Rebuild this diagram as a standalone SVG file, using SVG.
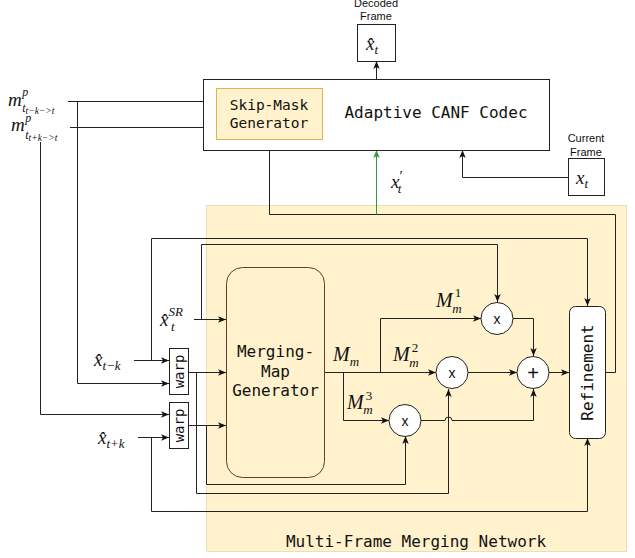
<svg xmlns="http://www.w3.org/2000/svg" width="635" height="558" viewBox="0 0 635 558">
<defs>
<marker id="ar" viewBox="0 0 10 10" refX="10" refY="5" markerWidth="8" markerHeight="8" orient="auto" markerUnits="userSpaceOnUse"><path d="M0,1 L10,5 L0,9 L2.5,5 Z" fill="#111"/></marker>
<marker id="ag" viewBox="0 0 10 10" refX="10" refY="5" markerWidth="8" markerHeight="8" orient="auto" markerUnits="userSpaceOnUse"><path d="M0,1 L10,5 L0,9 L2.5,5 Z" fill="#339933"/></marker>
<style>
.mono{font-family:"DejaVu Sans Mono","Liberation Mono",monospace;fill:#111}
.sans{font-family:"Liberation Sans",Arial,sans-serif;fill:#111}
.math{font-family:"Liberation Serif","Times New Roman",serif;font-style:italic;fill:#111}
.num{font-family:"Liberation Serif","Times New Roman",serif;fill:#111}
.c path{fill:none;stroke:#222;stroke-width:1;marker-end:url(#ar)}
.box{fill:#fff;stroke:#222;stroke-width:1}
.yel{fill:#fff2cc;stroke:#d6b656;stroke-width:1}
.circ{fill:#fff;stroke:#222;stroke-width:1}
</style>
</defs>
<rect width="635" height="558" fill="#fff"/>

<g id="panel">
<rect x="206.5" y="205.5" width="420" height="346" fill="#fff2cc" stroke="#d6c78f" stroke-dasharray="1 1"/>
<text class="mono" x="416" y="547" font-size="16" text-anchor="middle">Multi-Frame Merging Network</text>
</g>

<g id="connectors" class="c">
<path d="M68,101.5 H216"/>
<path d="M70,127.5 H216"/>
<path d="M77.5,101.5 V383.5 H169"/>
<path d="M40.5,142 V414.5 H169"/>
<path d="M134,360.5 H169"/>
<path d="M151.5,360.5 V238.5 H587.5 V306"/>
<path d="M138,437.5 H169"/>
<path d="M151.5,437.5 V511.5 H587.5 V438"/>
<path d="M194,319.5 H226"/>
<path d="M201.5,319.5 V244.5 H497.5 V302"/>
<path d="M188,372.5 H226"/>
<path d="M196.5,372.5 V493.5 H448.5 V389"/>
<path d="M188,425.5 H226"/>
<path d="M206.5,425.5 V484.5 H405.5 V436"/>
<path d="M324,372.5 H436"/>
<path d="M380.5,372.5 V318.5 H481"/>
<path d="M343.5,372.5 V420.5 H389"/>
<path d="M513,318.5 H533.5 V356"/>
<path d="M468,372.5 H517"/>
<path d="M421,420.5 H445 A3.5,3.5 0 0 1 452,420.5 H533.5 V389"/>
<path d="M549,372.5 H569"/>
<path d="M605,372.5 H615.5 V214.5 H269.5 V139"/>
<path d="M376.5,214.5 V150" style="stroke:#339933;marker-end:url(#ag)"/>
<path d="M376.5,79 V61"/>
<path d="M568,177.5 H462.5 V150"/>
</g>

<g id="codec">
<rect class="box" x="203.5" y="79.5" width="346" height="71"/>
<text class="mono" x="436" y="118" font-size="16" text-anchor="middle">Adaptive CANF Codec</text>
</g>

<g id="skip-mask">
<rect class="yel" x="216.5" y="88.5" width="106" height="51"/>
<text class="mono" x="269" y="110" font-size="14.5" text-anchor="middle">Skip-Mask</text>
<text class="mono" x="269" y="128" font-size="14.5" text-anchor="middle">Generator</text>
</g>

<g id="decoded">
<text class="sans" x="376" y="7" font-size="11" text-anchor="middle">Decoded</text>
<text class="sans" x="376" y="20" font-size="11" text-anchor="middle">Frame</text>
<rect class="box" x="357.5" y="24.5" width="38" height="37"/>
<text class="math" x="366" y="50" font-size="19">x̂<tspan font-size="13" dy="4">t</tspan></text>
</g>

<g id="current">
<text class="sans" x="586" y="142" font-size="11" text-anchor="middle">Current</text>
<text class="sans" x="586" y="156" font-size="11" text-anchor="middle">Frame</text>
<rect class="box" x="568.5" y="158.5" width="36" height="37"/>
<text class="math" x="576" y="184" font-size="19">x<tspan font-size="13" dy="4">t</tspan></text>
</g>

<g id="xprime">
<text class="math" x="391" y="188" font-size="19">x<tspan class="num" font-style="normal" font-size="15" dx="0" dy="-7">′</tspan><tspan font-size="13" dx="-5" dy="12">t</tspan></text>
</g>

<g id="mp-minus">
<text class="math" x="8" y="106" font-size="19">m<tspan font-size="12" dx="0.5" dy="-10">p</tspan><tspan font-size="12" dx="-6" dy="16">t</tspan><tspan font-size="9.5" dy="2">t−k−&gt;t</tspan></text>
</g>
<g id="mp-plus">
<text class="math" x="11" y="131" font-size="19">m<tspan font-size="12" dx="0.5" dy="-9">p</tspan><tspan font-size="12" dx="-6" dy="17">t</tspan><tspan font-size="9.5" dy="2">t+k−&gt;t</tspan></text>
</g>

<g id="x-tk-minus">
<text class="math" x="94" y="366" font-size="19">x̂<tspan font-size="13" dy="4">t−k</tspan></text>
</g>
<g id="x-tk-plus">
<text class="math" x="98" y="444" font-size="19">x̂<tspan font-size="13" dy="4">t+k</tspan></text>
</g>
<g id="x-sr">
<text class="math" x="160" y="326" font-size="19">x̂<tspan font-size="13" dy="-10">SR</tspan><tspan font-size="13" x="171" dy="15">t</tspan></text>
</g>

<g id="warp1">
<rect class="box" x="169.5" y="348.5" width="19" height="46"/>
<text class="mono" transform="translate(179,371.5) rotate(-90)" y="5" font-size="14" text-anchor="middle">warp</text>
</g>
<g id="warp2">
<rect class="box" x="169.5" y="402.5" width="19" height="46"/>
<text class="mono" transform="translate(179,425.5) rotate(-90)" y="5" font-size="14" text-anchor="middle">warp</text>
</g>

<g id="merging-map">
<rect x="226.5" y="267.5" width="98" height="210" rx="16" fill="#fff2cc" stroke="#6b3a2a"/>
<text class="mono" x="275.5" y="357" font-size="16" text-anchor="middle">Merging-</text>
<text class="mono" x="275.5" y="377" font-size="16" text-anchor="middle">Map</text>
<text class="mono" x="275.5" y="396" font-size="16" text-anchor="middle">Generator</text>
</g>

<g id="labels-m">
<text class="math" x="333" y="361" font-size="20">M<tspan font-size="13" dy="5">m</tspan></text>
<text class="math" x="436" y="307" font-size="20">M<tspan class="num" font-style="normal" font-size="13" dx="2" dy="-10">1</tspan><tspan font-size="13" dx="-9" dy="16">m</tspan></text>
<text class="math" x="393" y="361" font-size="20">M<tspan class="num" font-style="normal" font-size="13" dx="2" dy="-9">2</tspan><tspan font-size="13" dx="-9" dy="15">m</tspan></text>
<text class="math" x="347" y="409" font-size="20">M<tspan class="num" font-style="normal" font-size="13" dx="2" dy="-9">3</tspan><tspan font-size="13" dx="-9" dy="14">m</tspan></text>
</g>

<g id="mul1">
<circle class="circ" cx="497" cy="318.5" r="16"/>
<text class="sans" x="497" y="323.5" font-size="14" text-anchor="middle">x</text>
</g>
<g id="mul2">
<circle class="circ" cx="452" cy="372.5" r="16"/>
<text class="sans" x="452" y="377.5" font-size="14" text-anchor="middle">x</text>
</g>
<g id="mul3">
<circle class="circ" cx="405" cy="420.5" r="16"/>
<text class="sans" x="405" y="425.5" font-size="14" text-anchor="middle">x</text>
</g>
<g id="add">
<circle class="circ" cx="533" cy="372.5" r="16"/>
<text class="sans" x="533" y="379.5" font-size="20" text-anchor="middle">+</text>
</g>

<g id="refinement">
<rect class="box" x="569.5" y="306.5" width="36" height="132" rx="6"/>
<text class="mono" transform="translate(587.5,372.5) rotate(-90)" y="5.5" font-size="16" text-anchor="middle">Refinement</text>
</g>
</svg>
